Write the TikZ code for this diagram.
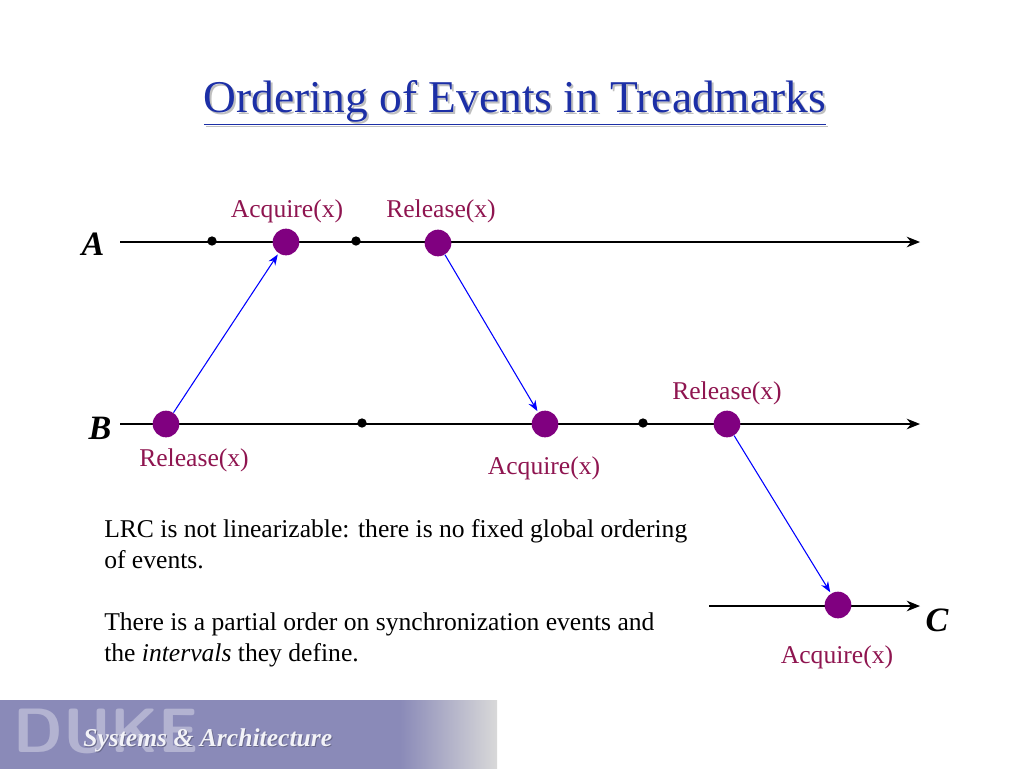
\documentclass[tikz,border=0pt]{standalone}
\usepackage{fontspec}
\setmainfont{Liberation Serif}
\usetikzlibrary{arrows.meta,shadings}
\definecolor{lbl}{HTML}{8F1550}
\definecolor{ev}{HTML}{800080}
\definecolor{ttl}{HTML}{1C2FA6}
\definecolor{ban}{HTML}{8A8AB8}
\tikzset{
  lbltext/.style={text=lbl,font=\fontsize{19.2}{22}\selectfont,inner sep=0pt},
  evdot/.style={circle,fill=ev,minimum size=20,inner sep=0pt},
  smalldot/.style={circle,fill=black,minimum size=7,inner sep=0pt},
  procname/.style={font=\fontsize{25.6}{28}\selectfont\bfseries\itshape,inner sep=0pt},
  timeline/.style={line width=0.9pt,-{Stealth[length=10,width=8]}},
  msg/.style={blue,line width=0.8pt,-{Stealth[length=8,width=6]},shorten >=1pt},
  body/.style={font=\fontsize{19.2}{23.25}\selectfont,inner sep=0pt,anchor=north west,align=left}
}
\begin{document}
\begin{tikzpicture}[x=0.75pt,y=-0.75pt]
\useasboundingbox[fill=white] (0,0) rectangle (1024,768);
% banner
\fill[ban] (0,700) rectangle (401,772);
\shade[left color=ban,right color=black!15] (400,700) rectangle (497,772);
\node[anchor=west,inner sep=0pt,text=white!35!ban,font=\fontsize{47}{47}\selectfont\sffamily\bfseries] (duke) at (13,731) {DUKE};
\node[anchor=west,inner sep=0pt,text=black!25!ban] at (84,741) {\fontsize{19.2}{22}\selectfont\itshape\bfseries Systems \& Architecture};
\node[anchor=west,inner sep=0pt,text=white!90!ban,font=\fontsize{19.2}{22}\selectfont\itshape\bfseries] (sys) at (83,740) {Systems \& Architecture};
% title
\node[text=black!25,font=\fontsize{34.1}{40}\selectfont,inner sep=0pt] at (517,105) {\underline{Ordering of Events in Treadmarks}};
\node[text=ttl,font=\fontsize{34.1}{40}\selectfont,inner sep=0pt] (title) at (515,103) {\underline{Ordering of Events in Treadmarks}};
% process names
\node[procname] (A) at (93,244) {A};
\node[procname] (B) at (100,428) {B};
\node[procname] (C) at (937,620) {C};
% timelines
\coordinate (As) at (120,242); \coordinate (Ae) at (920,242);
\coordinate (Bs) at (120,424); \coordinate (Be) at (920,424);
\coordinate (Cs) at (709,606); \coordinate (Ce) at (920,606);
\draw[timeline] (As) -- (Ae);
\draw[timeline] (Bs) -- (Be);
\draw[timeline] (Cs) -- (Ce);
% small dots
\node[smalldot] (a1) at (212,241) {};
\node[smalldot] (a2) at (356,241) {};
\node[smalldot] (b1) at (362,423) {};
\node[smalldot] (b2) at (643,423) {};
% events
\node[evdot] (aacq) at (286,242) {};
\node[evdot] (arel) at (438,243) {};
\node[evdot] (brel1) at (166,424) {};
\node[evdot] (bacq) at (545,424) {};
\node[evdot] (brel2) at (727,424) {};
\node[evdot] (cacq) at (838,605) {};
% labels
\node[lbltext] (l1) at (287,211) {Acquire(x)};
\node[lbltext] (l2) at (441,211) {Release(x)};
\node[lbltext] (l3) at (194,460) {Release(x)};
\node[lbltext] (l4) at (544,468) {Acquire(x)};
\node[lbltext] (l5) at (727,393) {Release(x)};
\node[lbltext] (l6) at (837,657) {Acquire(x)};
% messages
\draw[msg] (brel1) -- (aacq);
\draw[msg] (arel) -- (bacq);
\draw[msg] (brel2) -- (cacq);
% body text
\node[body] (txt) at (104,519) {LRC is not linearizable: there is no fixed global ordering\\of events.\\[23.25pt]There is a partial order on synchronization events and\\the \textit{intervals} they define.};
\end{tikzpicture}
\end{document}
